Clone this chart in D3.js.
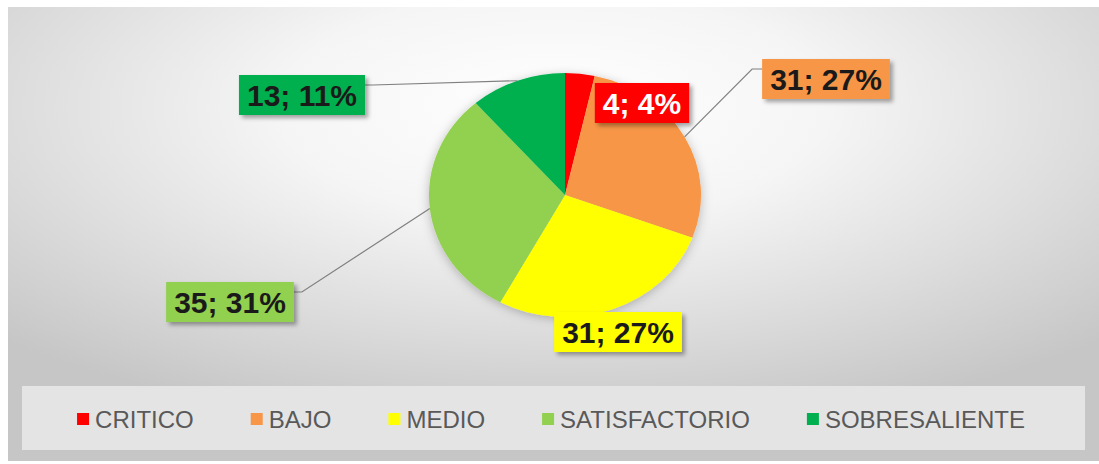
<!DOCTYPE html>
<html>
<head>
<meta charset="utf-8">
<script src="https://cdn.jsdelivr.net/npm/d3@7"></script>
<style>
    html, body { margin: 0; padding: 0; background: #fff; }
    svg { display: block; font-family: "Liberation Sans", Arial, sans-serif; }
</style>
</head>
<body>
<svg width="1099" height="464"></svg>
<script>
const categories = ["CRITICO", "BAJO", "MEDIO", "SATISFACTORIO", "SOBRESALIENTE"];
const values = [4, 31, 31, 35, 13];
const sliceColors = ["#FF0000", "#F79646", "#FFFF00", "#92D050", "#00B050"];
const labelTextColors = ["#ffffff", "#1a1a1a", "#1a1a1a", "#1a1a1a", "#1a1a1a"];
// label box centres, relative to the pie centre (dragged by hand in the original)
const labelOffsets = [[77, -92], [261, -116], [53, 137], [-335, 107], [-263, -100]];
const hasLeader = [false, true, false, true, true];

const W = 1099, H = 464;
const cx = 565, cy = 195, rx = 136, ry = 122;

const svg = d3.select("svg");
const defs = svg.append("defs");

const grad = defs.append("radialGradient")
    .attr("id", "bg")
    .attr("cx", "50%").attr("cy", "22%").attr("r", "72%");
grad.append("stop").attr("offset", "0%").attr("stop-color", "#ffffff");
grad.append("stop").attr("offset", "35%").attr("stop-color", "#f5f5f5");
grad.append("stop").attr("offset", "100%").attr("stop-color", "#c6c6c6");

const pieShadow = defs.append("filter").attr("id", "pieShadow")
    .attr("x", "-20%").attr("y", "-20%").attr("width", "140%").attr("height", "140%");
pieShadow.append("feDropShadow")
    .attr("dx", 0).attr("dy", 2).attr("stdDeviation", 5)
    .attr("flood-color", "#000").attr("flood-opacity", 0.25);

const boxShadow = defs.append("filter").attr("id", "boxShadow")
    .attr("x", "-20%").attr("y", "-30%").attr("width", "140%").attr("height", "170%");
boxShadow.append("feDropShadow")
    .attr("dx", 3).attr("dy", 3).attr("stdDeviation", 2)
    .attr("flood-color", "#000").attr("flood-opacity", 0.35);

// chart area
svg.append("rect")
    .attr("x", 8).attr("y", 7)
    .attr("width", W - 8).attr("height", H - 10)
    .attr("fill", "url(#bg)");

const total = d3.sum(values);
const data = categories.map((c, i) => ({
    name: c,
    value: values[i],
    color: sliceColors[i],
    textColor: labelTextColors[i],
    offset: labelOffsets[i],
    leader: hasLeader[i]
}));

const pie = d3.pie().sort(null).value(d => d.value);
const arcs = pie(data);
const arcGen = d3.arc().innerRadius(0).outerRadius(ry);

const gPie = svg.append("g")
    .attr("transform", `translate(${cx},${cy}) scale(${rx / ry},1)`)
    .attr("filter", "url(#pieShadow)");

gPie.selectAll("path")
    .data(arcs)
    .enter()
    .append("path")
    .attr("d", arcGen)
    .attr("fill", d => d.data.color);

function edgePoint(a) {
    return [cx + rx * Math.sin(a), cy - ry * Math.cos(a)];
}

// labels
const gLabels = svg.append("g");
const fontSize = 30;
const boxH = 40;

arcs.forEach(a => {
    const d = a.data;
    const pct = Math.round(d.value / total * 100);
    const lx = cx + d.offset[0];
    const ly = cy + d.offset[1];

    const t = gLabels.append("text")
        .attr("x", lx)
        .attr("y", ly + fontSize * 0.36)
        .attr("text-anchor", "middle")
        .attr("font-size", fontSize)
        .attr("font-weight", "bold")
        .attr("fill", d.textColor)
        .text(`${d.value}; ${pct}%`);

    const tw = t.node().getComputedTextLength();
    const boxW = tw + 16;
    const bx = lx - boxW / 2, by = ly - boxH / 2;

    gLabels.insert("rect", "text")
        .attr("x", bx).attr("y", by)
        .attr("width", boxW).attr("height", boxH)
        .attr("fill", d.color)
        .attr("filter", "url(#boxShadow)");

    if (d.leader) {
        const mid = (a.startAngle + a.endAngle) / 2;
        const [ex, ey] = edgePoint(mid);
        const toRight = ex > lx;
        const sx = toRight ? bx + boxW : bx;
        const sy = by + 10;
        const stub = toRight ? 8 : -10;
        gLabels.insert("path", "rect")
            .attr("d", `M${sx},${sy}L${sx + stub},${sy}L${ex},${ey}`)
            .attr("fill", "none")
            .attr("stroke", "#808080")
            .attr("stroke-width", 1.2);
    }
});

// legend
const legendBox = { x: 22, y: 386, w: 1063, h: 64 };
svg.append("rect")
    .attr("x", legendBox.x).attr("y", legendBox.y)
    .attr("width", legendBox.w).attr("height", legendBox.h)
    .attr("fill", "#e4e4e4");

const gLegend = svg.append("g");
const sq = 12, sqGap = 6, itemGap = 57;
const items = data.map(d => {
    const g = gLegend.append("g");
    g.append("rect")
        .attr("width", sq).attr("height", sq)
        .attr("y", -sq / 2)
        .attr("fill", d.color);
    const t = g.append("text")
        .attr("x", sq + sqGap)
        .attr("y", 8.5)
        .attr("font-size", 24)
        .attr("fill", "#595959")
        .text(d.name);
    return { g, w: sq + sqGap + t.node().getComputedTextLength() };
});
const legendW = d3.sum(items, d => d.w) + itemGap * (items.length - 1);
let xPos = 551 - legendW / 2;
items.forEach(it => {
    it.g.attr("transform", `translate(${xPos},419)`);
    xPos += it.w + itemGap;
});
</script>
</body>
</html>
